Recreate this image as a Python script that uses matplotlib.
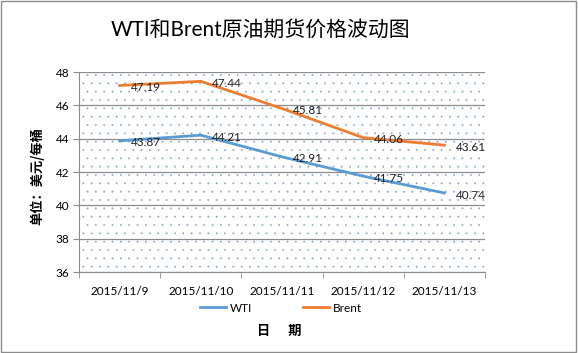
import matplotlib.pyplot as plt
from matplotlib.patches import Rectangle
import numpy as np

plt.rcParams['font.family'] = ['Lato', 'Noto Sans CJK SC', 'DejaVu Sans']
plt.rcParams['hatch.linewidth'] = 0.1

dates = ["2015/11/9", "2015/11/10", "2015/11/11", "2015/11/12", "2015/11/13"]
wti = [43.87, 44.21, 42.91, 41.75, 40.74]
brent = [47.19, 47.44, 45.81, 44.06, 43.61]

fig = plt.figure(figsize=(5.78, 3.53), dpi=100)
ax = fig.add_axes([79 / 578, 81 / 353, 406 / 578, 200 / 353])

# outer border
fig.patches.append(Rectangle((0.002, 0.003), 0.995, 0.993, transform=fig.transFigure,
                             fill=False, edgecolor='#8c8c8c', lw=1))

# dotted plot area
ax.add_patch(Rectangle((0, 0), 1, 1, transform=ax.transAxes, facecolor='white',
                       edgecolor='#7f9fc6', hatch='..', lw=0, zorder=0))

x = np.arange(len(dates))
ax.plot(x, wti, color='#5B9BD5', lw=2, label='WTI', zorder=3)
ax.plot(x, brent, color='#ED7D31', lw=2, label='Brent', zorder=3)

for xi, v in zip(x, wti):
    ax.annotate(f"{v:.2f}", (xi, v), xytext=(8, -1.5), textcoords='offset points',
                ha='left', va='center', fontsize=8.5, color='#222222', zorder=4)
for xi, v in zip(x, brent):
    ax.annotate(f"{v:.2f}", (xi, v), xytext=(8, -1.5), textcoords='offset points',
                ha='left', va='center', fontsize=8.5, color='#222222', zorder=4)

ax.set_xlim(-0.5, len(dates) - 0.5)
ax.set_ylim(36, 48)
ax.set_yticks(range(36, 49, 2))
ax.set_xticks(x)
ax.set_xticklabels(dates, fontsize=8.5)
ax.set_xticks(np.arange(-0.5, len(dates), 1), minor=True)
ax.tick_params(axis='x', which='major', length=0, pad=10)
ax.tick_params(axis='x', which='minor', length=4, color='#8c8c8c', direction='out')
ax.tick_params(axis='y', length=4, color='#8c8c8c', labelsize=8.5, pad=3)

ax.grid(axis='y', color='#8c8c8c', lw=0.9, zorder=1)
ax.set_axisbelow(True)
for s in ['top', 'right']:
    ax.spines[s].set_visible(False)
for s in ['left', 'bottom']:
    ax.spines[s].set_color('#8c8c8c')

fig.text(260 / 578, 1 - 30 / 353, "WTI和Brent原油期货价格波动图", ha='center', va='center',
         fontsize=15)
fig.text(37 / 578, 1 - 176 / 353, "单位：美元/每桶", rotation=90, ha='center', va='center',
         fontsize=9.5, fontweight='bold', family=['Noto Sans CJK SC'])
fig.text(279 / 578, 1 - 331 / 353, "日      期", ha='center', va='center',
         fontsize=9.5, fontweight='bold', family=['Noto Sans CJK SC'])

fig.legend(loc='center', bbox_to_anchor=(281 / 578, 1 - 308 / 353), ncol=2, frameon=False,
           fontsize=8.5, handlelength=2.2, handletextpad=0.3, columnspacing=4.3)

fig.savefig("out.png", dpi=100)
